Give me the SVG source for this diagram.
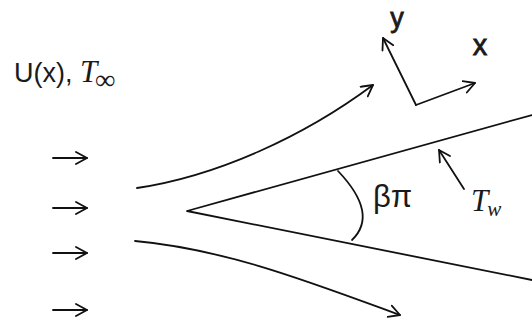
<svg xmlns="http://www.w3.org/2000/svg" width="532" height="322" viewBox="0 0 532 322">
  <style>
    .ln { fill: none; stroke: #111; stroke-width: 1.8; stroke-linecap: round; stroke-linejoin: round; }
    .ar { marker-end: url(#ah); }
    .lbl { font-family: "Liberation Sans", Arial, sans-serif; fill: #1a1a1a; }
    .mth { font-family: "Liberation Serif", "Times New Roman", serif; font-style: italic; fill: #1a1a1a; }
    .ax { font-family: "Liberation Sans", Arial, sans-serif; fill: #1a1a1a; stroke: #1a1a1a; stroke-width: 0.8; }
  </style>
  <defs>
    <marker id="ah" markerWidth="16" markerHeight="16" refX="12" refY="7" orient="auto" markerUnits="userSpaceOnUse">
      <path d="M1,1 L12,7 L1,13" fill="none" stroke="#111" stroke-width="1.8" stroke-linecap="round" stroke-linejoin="round"/>
    </marker>
  </defs>
  <rect width="532" height="322" fill="#fff"/>

  <g id="label-freestream">
    <text class="lbl" x="14" y="82" font-size="27">U(x), <tspan class="mth" font-size="31">T</tspan><tspan class="mth" font-size="28" font-style="normal" dx="-2" dy="7">∞</tspan></text>
  </g>

  <g id="inflow-arrows">
    <line class="ln ar" x1="53" y1="158" x2="87" y2="158"/>
    <line class="ln ar" x1="53" y1="208" x2="87" y2="208"/>
    <line class="ln ar" x1="53" y1="253" x2="87" y2="253"/>
    <line class="ln ar" x1="53" y1="310" x2="87" y2="310"/>
  </g>

  <g id="wedge">
    <polyline class="ln" points="532,115 187,211 532,280"/>
    <path class="ln" d="M338,171 Q379,214 352,240" stroke-width="2.2"/>
    <text class="lbl" x="373" y="207" font-size="31">βπ</text>
  </g>

  <g id="wall-temperature">
    <line class="ln ar" x1="464" y1="189" x2="439" y2="150"/>
    <text class="mth" x="471" y="211" font-size="31">T<tspan font-size="21" dx="-1" dy="5">w</tspan></text>
  </g>

  <g id="axes">
    <line class="ln ar" x1="416" y1="105" x2="383" y2="38"/>
    <line class="ln ar" x1="416" y1="105" x2="475" y2="83"/>
    <text class="ax" x="397" y="27" font-size="27" text-anchor="middle">y</text>
    <text class="ax" x="480" y="55" font-size="29" text-anchor="middle">x</text>
  </g>

  <g id="connectors">
    <path class="ln ar" d="M137,188 C217,176 303,137 373,85"/>
    <path class="ln ar" d="M135,241 C225,249 310,282 400,315"/>
  </g>
</svg>
